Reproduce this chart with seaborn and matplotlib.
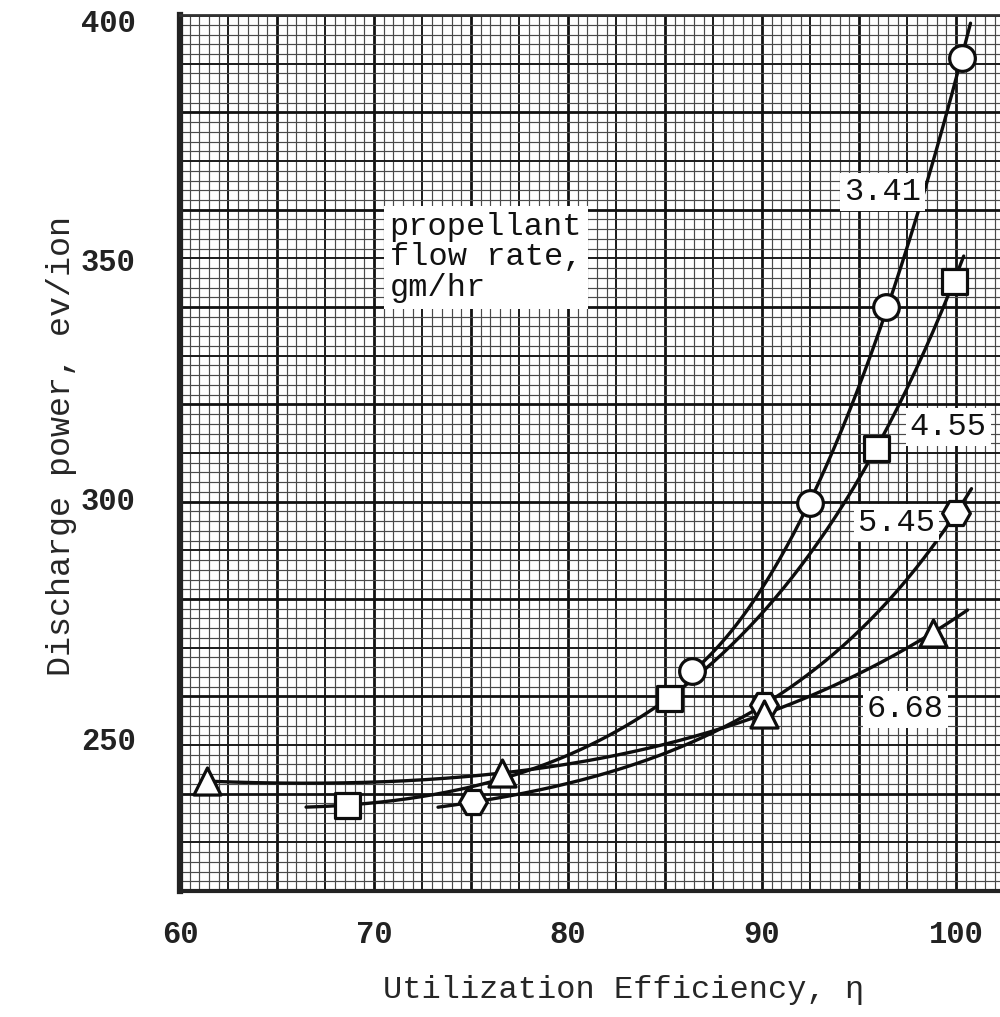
import numpy as np
import pandas as pd
import matplotlib
matplotlib.use("Agg")
import matplotlib.pyplot as plt
import seaborn as sns

# Utilization efficiency (%) vs. discharge power (eV/ion) for each propellant flow rate (gm/hr)
eff_341 = [86.4, 92.5, 96.4, 100.3]
pow_341 = [264.0, 299.0, 340.0, 392.0]

eff_455 = [68.6, 85.2, 95.9, 99.9]
pow_455 = [236.0, 258.4, 310.6, 345.5]

eff_545 = [75.1, 90.1, 100.0]
pow_545 = [236.6, 257.0, 297.0]

eff_668 = [61.4, 76.6, 90.1, 98.8]
pow_668 = [241.0, 242.7, 255.0, 272.0]

flow_labels = ["3.41", "4.55", "5.45", "6.68"]
x_ticks = [60, 70, 80, 90, 100]
y_ticks = [250, 300, 350, 400]

MONO = ["Liberation Mono", "DejaVu Sans Mono"]
FS = 23
FS_TICK = 22

sns.set_theme(style="white")
plt.rcParams["font.family"] = MONO
plt.rcParams["text.color"] = "#111111"

fig = plt.figure(figsize=(10, 10.17), dpi=100)
ax = fig.add_axes([0.18, 0.1239, 0.82, 0.8613])
ax.set_xlim(60, 102.27)
ax.set_ylim(218.05, 401.04)
ax.set_facecolor("white")

# graph-paper ruling: vertical lines every 0.5 %, horizontal rules in 90 equal divisions
for k, xv in enumerate(np.arange(60.5, 102.3, 0.5), start=1):
    if k % 10 == 0:
        c, w = "#111111", 2.0
    elif k % 5 == 0:
        c, w = "#1a1a1a", 1.4
    else:
        c, w = "#4a4a4a", 0.85
    ax.axvline(xv, color=c, lw=w, zorder=0)
levels = {"minor": [], "mid": [], "major": []}
for i in range(1, 91):
    f = i / 90.0
    if i % 10 == 0:
        levels["major"].append(f)
    elif i % 5 == 0:
        levels["mid"].append(f)
    else:
        levels["minor"].append(f)
ax.hlines(levels["minor"], 0, 1, transform=ax.transAxes, color="#4a4a4a", lw=0.85, zorder=0)
ax.hlines(levels["mid"], 0, 1, transform=ax.transAxes, color="#1a1a1a", lw=1.4, zorder=0)
ax.hlines(levels["major"], 0, 1, transform=ax.transAxes, color="#111111", lw=2.0, zorder=0)


def smooth_curve(x, y, lo, hi):
    """Smooth exponential-type fit drawn over [lo, hi]."""
    x = np.asarray(x, float)
    y = np.asarray(y, float)
    best = None
    for s in np.linspace(2.0, 80.0, 800):
        e = np.exp((x - 100.0) / s)
        cols = [np.ones_like(x), e] if len(x) < 4 else [np.ones_like(x), x - 80.0, e]
        B = np.column_stack(cols)
        coef, *_ = np.linalg.lstsq(B, y, rcond=None)
        r = float(np.sum((B @ coef - y) ** 2))
        if best is None or r < best[0]:
            best = (r, s, coef)
    _, s, coef = best
    xs = np.linspace(lo, hi, 300)
    e = np.exp((xs - 100.0) / s)
    ys = coef[0] + coef[1] * e if len(coef) == 2 else coef[0] + coef[1] * (xs - 80.0) + coef[2] * e
    return xs, ys


series = [
    (eff_341, pow_341, "o", 18.5, (86.4, 100.75)),
    (eff_455, pow_455, "s", 18, (66.5, 100.4)),
    (eff_545, pow_545, "H", 20, (73.3, 100.8)),
    (eff_668, pow_668, "^", 19.5, (61.4, 100.6)),
]

for (ex, pw, mk, ms, (lo, hi)), lab in zip(series, flow_labels):
    xs, ys = smooth_curve(ex, pw, lo, hi)
    sns.lineplot(x=xs, y=ys, ax=ax, color="#0d0d0d", lw=2.4, sort=False,
                 estimator=None, zorder=3)
    df = pd.DataFrame({"eff": ex, "power": pw})
    sns.scatterplot(data=df, x="eff", y="power", ax=ax, marker=mk, s=ms ** 2,
                    facecolor="white", edgecolor="#0d0d0d", linewidth=2.3, zorder=4)

# flow-rate tags placed beside their curves
tag_pos = [(96.2, 364.1), (99.6, 315.0), (96.95, 295.0), (97.4, 256.0)]
for lab, (tx, ty) in zip(flow_labels, tag_pos):
    ax.text(tx, ty, lab, fontsize=FS, ha="center", va="center", zorder=5,
            bbox=dict(boxstyle="square,pad=0.12", fc="white", ec="none"))

ax.text(70.8, 359.9, "propellant\nflow rate,\ngm/hr", fontsize=FS, ha="left",
        va="top", linespacing=1.02, zorder=5,
        bbox=dict(boxstyle="square,pad=0.18", fc="white", ec="none"))

ax.set_xticks(x_ticks)
ax.set_yticks(y_ticks)
ax.set_xticklabels([str(v) for v in x_ticks])
ax.set_yticklabels([str(v) for v in y_ticks])
ax.tick_params(axis="both", direction="in", length=9, width=3, color="#111111",
               labelsize=FS_TICK, labelcolor="#222222")
ax.tick_params(axis="x", pad=21)
ax.tick_params(axis="y", pad=32)
for t in ax.get_xticklabels() + ax.get_yticklabels():
    t.set_fontweight("bold")

ax.set_xlabel("Utilization Efficiency, η", fontsize=FS, va="center")
ax.set_ylabel("Discharge power, ev/ion", fontsize=24, va="center")
ax.xaxis.set_label_coords(0.541, -0.113)
ax.yaxis.set_label_coords(-0.144, 0.508)

ax.spines["right"].set_visible(False)
ax.spines["top"].set_linewidth(2.0)
ax.spines["top"].set_color("#333333")
ax.spines["left"].set_linewidth(4.5)
ax.spines["left"].set_color("#222222")
ax.spines["bottom"].set_linewidth(3)
ax.spines["bottom"].set_color("#222222")

fig.savefig("out.png", dpi=100)
